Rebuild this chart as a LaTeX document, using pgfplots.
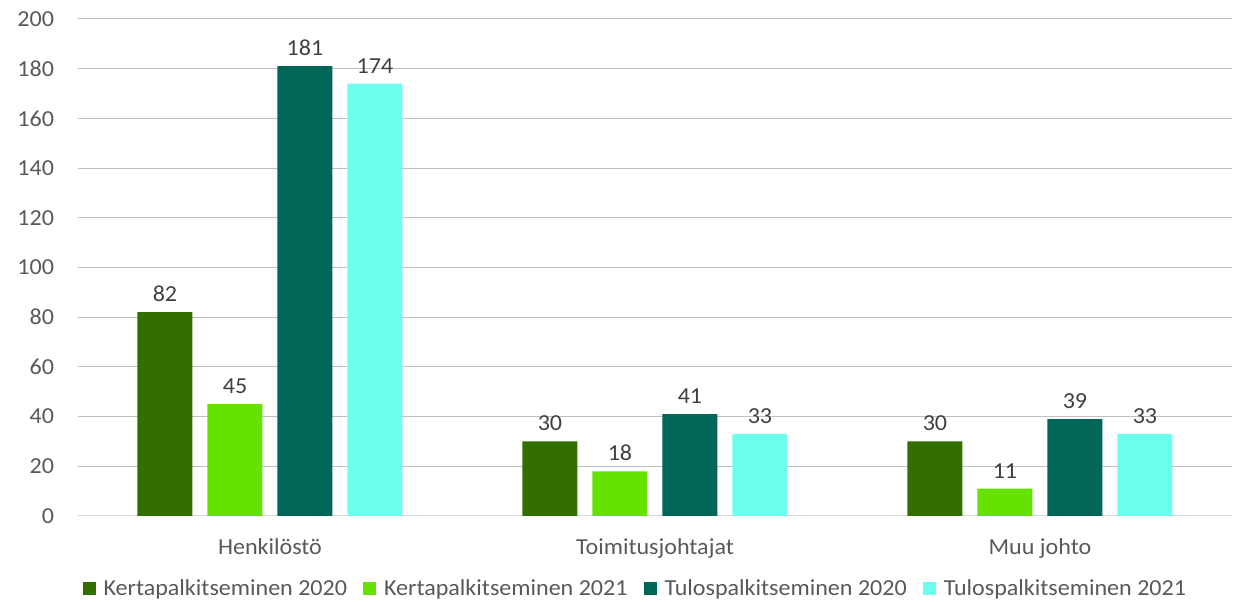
\documentclass[border=0pt]{standalone}
\usepackage{pgfplots}
\pgfplotsset{compat=1.18}
\usepackage{fontspec}
\setmainfont[FakeStretch=1.05]{Carlito}
\definecolor{c1}{HTML}{336E00}
\definecolor{c2}{HTML}{66E200}
\definecolor{c3}{HTML}{006658}
\definecolor{c4}{HTML}{6CFFEE}
\definecolor{tick}{HTML}{595959}
\definecolor{grid}{HTML}{D9D9D9}
\begin{document}
\begin{tikzpicture}[x=1bp,y=1bp]
\useasboundingbox (0,0) rectangle (1245,602);
\begin{axis}[
  at={(77.5bp,86bp)}, anchor=south west,
  scale only axis, width=1155bp, height=497bp,
  ybar=15bp, bar width=55bp,
  xmin=-0.5, xmax=2.5, ymin=0, ymax=200,
  xtick={0,1,2}, xticklabels={Henkilöstö,Toimitusjohtajat,Muu johto},
  ytick={0,20,...,200},
  ymajorgrids, xmajorgrids=false, grid style={grid, line width=1bp},
  axis x line*=bottom, axis y line*=left,
  x axis line style={grid, line width=1bp},
  y axis line style={draw=none},
  major tick length=0pt,
  ticklabel style={font=\fontsize{23}{26}\selectfont, text=tick},
  xticklabel style={yshift=-19bp},
  yticklabel style={xshift=-20bp},
  /pgf/number format/assume math mode=true,
  nodes near coords,
  nodes near coords style={font=\fontsize{23}{26}\selectfont, text=black!75, yshift=7bp},
  legend columns=4,
  legend style={at={(0.483,-0.145)}, anchor=center, draw=none, font=\fontsize{23}{26}\selectfont, text=tick,
    /tikz/every even column/.append style={column sep=14bp},
    /tikz/every odd column/.append style={column sep=6bp}},
  legend image code/.code={\fill[#1] (0bp,-7bp) rectangle (13bp,6bp);},
]
\addplot[fill=c1, draw=none] coordinates {(0,82) (1,30) (2,30)};
\addplot[fill=c2, draw=none] coordinates {(0,45) (1,18) (2,11)};
\addplot[fill=c3, draw=none] coordinates {(0,181) (1,41) (2,39)};
\addplot[fill=c4, draw=none] coordinates {(0,174) (1,33) (2,33)};
\legend{Kertapalkitseminen 2020,Kertapalkitseminen 2021,Tulospalkitseminen 2020,Tulospalkitseminen 2021}
\end{axis}
\end{tikzpicture}
\end{document}
